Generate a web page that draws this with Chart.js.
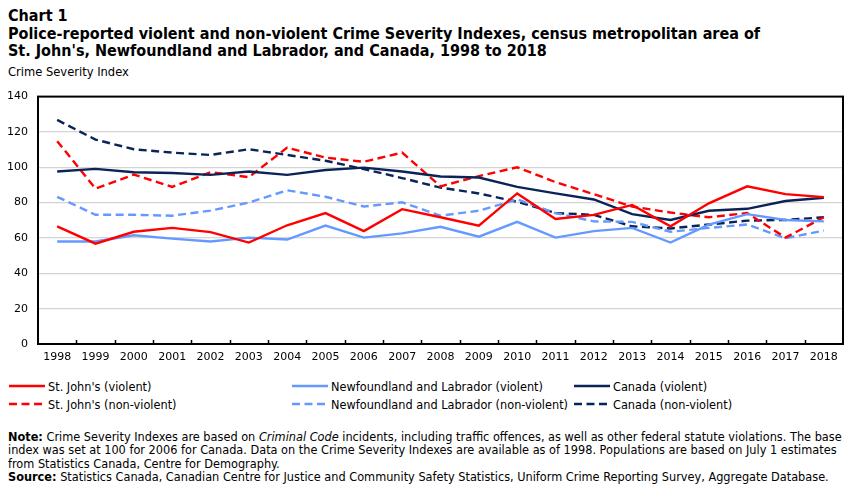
<!DOCTYPE html>
<html>
<head>
<meta charset="utf-8">
<script src="https://cdn.jsdelivr.net/npm/chart.js@4/dist/chart.umd.min.js"></script>
<style>
  html, body { margin:0; padding:0; background:#fff; }
  body { width:851px; height:486px; position:relative; overflow:hidden; color:#000; }
  .cond { font-family: "DejaVu Sans Condensed", "DejaVu Sans", sans-serif; }
  #title { position:absolute; left:8px; top:7px; font-weight:bold; font-size:16px; line-height:17.5px; white-space:nowrap; }
  #ytitle { position:absolute; left:8px; top:63px; font-size:12.8px; line-height:18px; white-space:nowrap; }
  #chartWrap { position:absolute; left:0; top:80px; width:851px; height:290px; }
  #legend { position:absolute; left:0; top:378px; width:851px; height:40px; font-size:12.6px; }
  .li { position:absolute; white-space:nowrap; height:18px; line-height:18px; }
  .li svg { position:absolute; left:0; top:0; }
  .li span { position:absolute; top:0; }
  #notes { position:absolute; left:8px; top:430px; font-size:12.6px; line-height:13.3px; white-space:nowrap; }
</style>
</head>
<body>
<div id="title" class="cond">Chart 1<br>Police-reported violent and non-violent Crime Severity Indexes, census metropolitan area of<br>St. John's, Newfoundland and Labrador, and Canada, 1998 to 2018</div>
<div id="ytitle" class="cond">Crime Severity Index</div>
<div id="chartWrap"><canvas id="c" width="851" height="290"></canvas></div>
<div id="legend" class="cond"></div>
<div id="notes" class="cond"><b>Note:</b> Crime Severity Indexes are based on <i>Criminal Code</i> incidents, including traffic offences, as well as other federal statute violations. The base<br>index was set at 100 for 2006 for Canada. Data on the Crime Severity Indexes are available as of 1998. Populations are based on July 1 estimates<br>from Statistics Canada, Centre for Demography.<br><b>Source:</b> Statistics Canada, Canadian Centre for Justice and Community Safety Statistics, Uniform Crime Reporting Survey, Aggregate Database.</div>
<script>
const years = ['1998','1999','2000','2001','2002','2003','2004','2005','2006','2007','2008','2009','2010','2011','2012','2013','2014','2015','2016','2017','2018'];
const yTicks = [0, 20, 40, 60, 80, 100, 120, 140];

const stJohnsViolent    = [66.6,56.8,63.5,65.7,63.3,57.4,67.2,74.1,63.9,76.3,71.7,67.0,85.2,70.7,73.1,78.7,66.6,79.6,89.2,84.8,83.1];
const nlViolent         = [58.0,58.0,61.5,59.6,58.0,60.2,59.1,67.0,60.2,62.6,66.3,60.7,69.1,60.2,63.9,65.7,57.4,67.6,73.5,70.2,69.4];
const canadaViolent     = [97.6,99.1,97.2,96.8,95.7,97.6,95.7,98.5,99.8,97.6,94.8,94.2,88.9,85.2,81.8,73.5,70.2,75.4,76.5,80.9,82.8];
const stJohnsNonViolent = [114.8,87.9,95.9,88.9,97.2,94.4,111.1,105.5,103.1,108.3,89.2,95.0,100.0,91.6,84.8,77.8,74.4,71.7,74.1,60.2,71.7];
const nlNonViolent      = [83.3,73.1,73.1,72.6,75.5,80.0,87.0,83.3,77.8,80.2,72.6,75.4,81.8,74.1,69.4,69.1,63.5,65.7,67.6,59.8,64.2];
const canadaNonViolent  = [126.8,115.7,110.2,108.3,107.0,110.2,107.0,103.7,99.0,93.9,88.5,85.2,80.5,74.1,73.1,66.6,65.4,67.6,69.8,70.2,71.7];

const seriesNames = ["St. John's (violent)", "Newfoundland and Labrador (violent)", "Canada (violent)",
                     "St. John's (non-violent)", "Newfoundland and Labrador (non-violent)", "Canada (non-violent)"];

const RED = '#ff0000', LIGHT = '#6699ff', NAVY = '#0a2458';
const DASH = [8, 4.5];
const LW = 2.4;

function ds(label, data, color, dashed) {
  return { label, data, borderColor: color, backgroundColor: color, borderWidth: LW,
           borderDash: dashed ? DASH : [], pointRadius: 0, pointHoverRadius: 0, tension: 0, fill: false };
}

const datasets = [
  ds(seriesNames[0], stJohnsViolent, RED, false),
  ds(seriesNames[1], nlViolent, LIGHT, false),
  ds(seriesNames[2], canadaViolent, NAVY, false),
  ds(seriesNames[3], stJohnsNonViolent, RED, true),
  ds(seriesNames[4], nlNonViolent, LIGHT, true),
  ds(seriesNames[5], canadaNonViolent, NAVY, true)
];

const boxPlugin = {
  id: 'boxPlugin',
  afterDraw(chart) {
    const ctx = chart.ctx, a = chart.chartArea, xs = chart.scales.x;
    ctx.save();
    ctx.strokeStyle = '#000';
    ctx.lineWidth = 1.5;
    ctx.beginPath();
    for (let i = 1; i < years.length; i++) {
      const x = Math.round((xs.getPixelForValue(i - 1) + xs.getPixelForValue(i)) / 2) + 0.5;
      ctx.moveTo(x, a.bottom);
      ctx.lineTo(x, a.bottom - 4);
    }
    ctx.stroke();
    ctx.lineWidth = 2;
    ctx.strokeRect(a.left, a.top, a.right - a.left, a.bottom - a.top);
    ctx.restore();
  }
};

new Chart(document.getElementById('c'), {
  type: 'line',
  data: { labels: years, datasets },
  options: {
    responsive: false,
    animation: false,
    devicePixelRatio: 1,
    layout: { padding: { left: 0, right: 8, top: 11, bottom: 0 } },
    plugins: { legend: { display: false }, tooltip: { enabled: false } },
    scales: {
      x: {
        offset: true,
        grid: { display: false, drawTicks: false },
        border: { display: false },
        ticks: { color: '#000', padding: 7, font: { family: 'DejaVu Sans', size: 11 }, maxRotation: 0, autoSkip: false },
        afterFit(s) { s.height = 26; }
      },
      y: {
        min: 0, max: 140,
        afterBuildTicks(s) { s.ticks = yTicks.map(v => ({ value: v })); },
        grid: { color: '#d4d4d4', lineWidth: 1.2, drawTicks: false },
        border: { display: false },
        ticks: { color: '#000', padding: 10, font: { family: 'DejaVu Sans', size: 11 } },
        afterFit(s) { s.width = 38; }
      }
    }
  },
  plugins: [boxPlugin]
});

// HTML legend built from the datasets
const legendPos = [
  { x: 9, y: 0 }, { x: 292, y: 0 }, { x: 574, y: 0 },
  { x: 9, y: 18 }, { x: 292, y: 18 }, { x: 574, y: 18 }
];
const legend = document.getElementById('legend');
datasets.forEach((d, i) => {
  const p = legendPos[i];
  const div = document.createElement('div');
  div.className = 'li';
  div.style.left = p.x + 'px';
  div.style.top = p.y + 'px';
  const dash = d.borderDash.length ? `stroke-dasharray="${d.borderDash.join(' ')}"` : '';
  div.innerHTML = `<svg width="38" height="18"><line x1="0" y1="8" x2="36" y2="8" stroke="${d.borderColor}" stroke-width="2.4" ${dash}/></svg><span style="left:39px">${d.label}</span>`;
  legend.appendChild(div);
});
</script>
</body>
</html>
